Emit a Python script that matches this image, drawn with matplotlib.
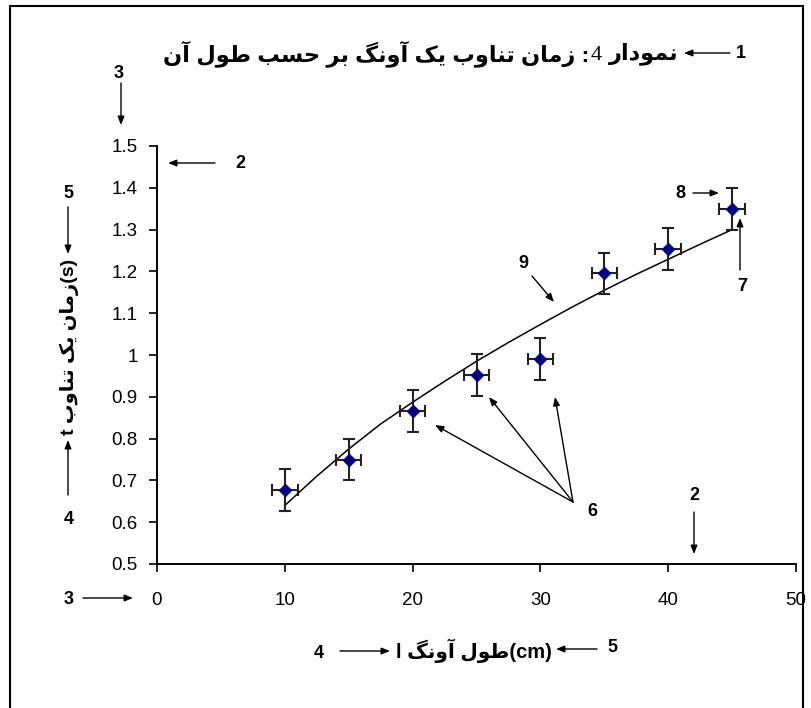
import matplotlib
matplotlib.use("Agg")
import matplotlib.pyplot as plt
from matplotlib.patches import FancyArrowPatch, Rectangle

# ---------------- data ----------------
lengths = [10, 15, 20, 25, 30, 35, 40, 45]              # l (cm)
periods = [0.677, 0.750, 0.866, 0.953, 0.990, 1.195, 1.254, 1.349]  # t (s)
x_err = [1, 1, 1, 1, 1, 1, 1, 1]
y_err = [0.05, 0.05, 0.05, 0.05, 0.05, 0.05, 0.05, 0.05]

trend_x = [10, 12.5, 15, 17.5, 20, 22.5, 25, 27.5, 30, 32.5, 35, 37.5, 40, 42.5, 45]
trend_y = [0.64, 0.71, 0.775, 0.835, 0.887, 0.937, 0.985, 1.03, 1.073, 1.115,
           1.155, 1.193, 1.229, 1.265, 1.30]

x_ticks = [0, 10, 20, 30, 40, 50]
y_ticks = [0.5, 0.6, 0.7, 0.8, 0.9, 1.0, 1.1, 1.2, 1.3, 1.4, 1.5]
y_tick_labels = ["0.5", "0.6", "0.7", "0.8", "0.9", "1", "1.1", "1.2", "1.3", "1.4", "1.5"]

title_fa = "زمان تناوب یک آونگ بر حسب طول آن"
title_head_fa = "نمودار"
title_num = "4"
ylabel_fa = "زمان یک تناوب"
xlabel_fa = "طول آونگ"

# ---------------- simple Persian shaping (presentation forms) ----------------
FORMS = {
    'ا': ('\uFE8D', '\uFE8E', None, None),
    'آ': ('\uFE81', '\uFE82', None, None),
    'ب': ('\uFE8F', '\uFE90', '\uFE91', '\uFE92'),
    'ت': ('\uFE95', '\uFE96', '\uFE97', '\uFE98'),
    'ح': ('\uFEA1', '\uFEA2', '\uFEA3', '\uFEA4'),
    'د': ('\uFEA9', '\uFEAA', None, None),
    'ر': ('\uFEAD', '\uFEAE', None, None),
    'ز': ('\uFEAF', '\uFEB0', None, None),
    'س': ('\uFEB1', '\uFEB2', '\uFEB3', '\uFEB4'),
    'ط': ('\uFEC1', '\uFEC2', '\uFEC3', '\uFEC4'),
    'ل': ('\uFEDD', '\uFEDE', '\uFEDF', '\uFEE0'),
    'م': ('\uFEE1', '\uFEE2', '\uFEE3', '\uFEE4'),
    'ن': ('\uFEE5', '\uFEE6', '\uFEE7', '\uFEE8'),
    'و': ('\uFEED', '\uFEEE', None, None),
    'ی': ('\uFBFC', '\uFBFD', '\uFBFE', '\uFBFF'),
    'ک': ('\uFB8E', '\uFB8F', '\uFB90', '\uFB91'),
    'گ': ('\uFB92', '\uFB93', '\uFB94', '\uFB95'),
}


def shape(s):
    out = []
    for i, c in enumerate(s):
        if c not in FORMS:
            out.append(c)
            continue
        prev = s[i - 1] if i > 0 else ''
        nxt = s[i + 1] if i + 1 < len(s) else ''
        pj = prev in FORMS and FORMS[prev][2] is not None
        nj = nxt in FORMS and FORMS[c][2] is not None
        iso, fin, ini, med = FORMS[c]
        if pj and nj:
            out.append(med)
        elif pj:
            out.append(fin)
        elif nj:
            out.append(ini)
        else:
            out.append(iso)
    return ''.join(out)


def vis(s):
    return shape(s)[::-1]


# ---------------- figure ----------------
W, H = 811, 708
fig = plt.figure(figsize=(W / 100, H / 100), dpi=100)
fig.patch.set_facecolor('white')


def P(x, y):
    return (x / W, 1 - y / H)


ax = fig.add_axes([157 / W, 1 - 564 / H, (796 - 157) / W, (564 - 146) / H])
ax.set_xlim(0, 50)
ax.set_ylim(0.5, 1.5)
for s in ['top', 'right']:
    ax.spines[s].set_visible(False)
for s in ['left', 'bottom']:
    ax.spines[s].set_linewidth(1.4)
    ax.spines[s].set_color('black')

lab_font = dict(family='Liberation Sans', size=13.5)
ax.set_xticks(x_ticks)
ax.set_xticklabels([str(v) for v in x_ticks], **lab_font)
ax.set_yticks(y_ticks)
ax.set_yticklabels(y_tick_labels, **lab_font)
ax.tick_params(axis='x', direction='out', length=6, width=1.2, pad=14)
ax.tick_params(axis='y', direction='out', length=6, width=1.2, pad=8)

ax.plot(trend_x, trend_y, color='black', lw=1.1, zorder=2)
ax.errorbar(lengths, periods, xerr=x_err, yerr=y_err, fmt='D', color='#000080',
            ms=6.5, mec='#000080', ecolor='#222222', elinewidth=1.5,
            capsize=4, capthick=1.5, zorder=3)

# frame
fig.add_artist(Rectangle(P(10, 712), (803 - 10) / W, (712 - 6) / H,
                         transform=fig.transFigure, fill=False,
                         edgecolor='black', lw=1.5))

num_font = dict(family='Liberation Sans', weight='bold', size=13)
fa_fam = ['Liberation Sans', 'DejaVu Sans']


def num(t, x, y):
    fig.text(*P(x, y), t, ha='center', va='center', **num_font)


def arrow(x0, y0, x1, y1):
    fig.add_artist(FancyArrowPatch(P(x0, y0), P(x1, y1), transform=fig.transFigure,
                                   arrowstyle='-|>,head_length=0.5,head_width=0.2',
                                   mutation_scale=10, lw=1.0, color='black',
                                   shrinkA=0, shrinkB=0))


# title, built right-to-left in three pieces
renderer = fig.canvas.get_renderer()
ty = 54
t_head = fig.text(*P(679, ty), vis(title_head_fa), ha='right', va='center',
                  family=fa_fam, weight='bold', size=16.2)
x_next = t_head.get_window_extent(renderer).x0 - 8
t_num = fig.text(*P(x_next, ty + 1), title_num, ha='right', va='center',
                 family='Liberation Serif', size=16)
x_next = t_num.get_window_extent(renderer).x0 - 1
fig.text(*P(x_next, ty), vis(title_fa) + " :", ha='right', va='center',
         family=fa_fam, weight='bold', size=16.2)
num("1", 741, 53)
arrow(730, 53, 684, 53)

# y label
ylabel_vis = "t " + vis(ylabel_fa) + "(s)"
fig.text(*P(69, 347), ylabel_vis, ha='center', va='center', rotation=90,
         family=fa_fam, weight='bold', size=14)

# x label
xlabel_vis = "l " + vis(xlabel_fa) + "(cm)"
fig.text(*P(474, 651), xlabel_vis, ha='center', va='center',
         family=fa_fam, weight='bold', size=14.5)

# numbered annotations
num("3", 119, 73)
arrow(121, 83, 121, 125)
num("2", 240, 163)
arrow(215, 163, 168, 163)
num("5", 68, 194)
arrow(68, 207, 68, 254)
num("4", 69, 520)
arrow(68, 495, 68, 440)
num("3", 69, 600)
arrow(83, 598, 133, 598)
num("4", 319, 654)
arrow(340, 651, 390, 651)
num("5", 612, 647)
arrow(597, 649, 556, 649)
num("6", 592, 512)
arrow(573, 502, 435, 425)
arrow(573, 502, 489, 397)
arrow(573, 502, 555, 397)
num("2", 694, 495)
arrow(694, 512, 694, 554)
num("8", 680, 194)
arrow(693, 193, 719, 193)
num("7", 742, 287)
arrow(740, 270, 740, 218)
num("9", 523, 263)
arrow(532, 276, 554, 302)

fig.savefig("out.png", dpi=100)
